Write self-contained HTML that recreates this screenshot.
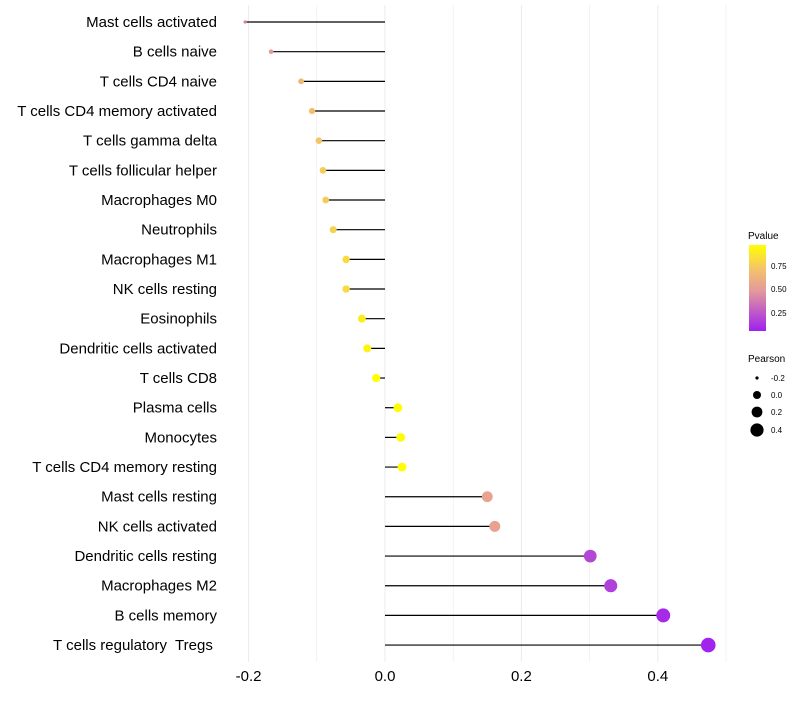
<!DOCTYPE html>
<html><head><meta charset="utf-8"><style>
body{margin:0;background:#fff;font-family:"Liberation Sans",sans-serif}
</style></head><body>
<svg id="chart" width="800" height="700" xmlns="http://www.w3.org/2000/svg" font-family="Liberation Sans, sans-serif">
<defs><linearGradient id="pg" x1="0" y1="1" x2="0" y2="0">
<stop offset="0" stop-color="#A020F0"/><stop offset="0.47" stop-color="#E39A9A"/><stop offset="0.73" stop-color="#F5C468"/><stop offset="1" stop-color="#FFFF00"/></linearGradient></defs>
<g id="grid"></g><g id="marks"></g><g id="labels"></g>
<g>
<text x="748" y="239" font-size="10">Pvalue</text>
<rect x="749" y="245" width="17" height="86" fill="url(#pg)"/>
<text x="771" y="269" font-size="8">0.75</text><text x="771" y="292" font-size="8">0.50</text><text x="771" y="316" font-size="8">0.25</text>
</g>
<g>
<text x="748" y="362" font-size="10">Pearson</text>
<circle cx="757" cy="378" r="1.6"/><text x="771" y="381" font-size="8">-0.2</text>
<circle cx="757" cy="395" r="4"/><text x="771" y="398" font-size="8">0.0</text>
<circle cx="757" cy="412" r="5.4"/><text x="771" y="415" font-size="8">0.2</text>
<circle cx="757" cy="430" r="6.6"/><text x="771" y="433" font-size="8">0.4</text>
</g>
</svg>
<script>
const categories=["Mast cells activated","B cells naive","T cells CD4 naive","T cells CD4 memory activated","T cells gamma delta","T cells follicular helper","Macrophages M0","Neutrophils","Macrophages M1","NK cells resting","Eosinophils","Dendritic cells activated","T cells CD8","Plasma cells","Monocytes","T cells CD4 memory resting","Mast cells resting","NK cells activated","Dendritic cells resting","Macrophages M2","B cells memory","T cells regulatory  Tregs "];
const pearson=[-0.205,-0.167,-0.123,-0.107,-0.097,-0.091,-0.087,-0.076,-0.057,-0.057,-0.034,-0.026,-0.013,0.019,0.023,0.025,0.150,0.161,0.301,0.331,0.408,0.474];
const pvalues=[0.4,0.5,0.68,0.72,0.75,0.78,0.78,0.8,0.83,0.83,0.9,0.92,0.96,0.95,0.95,0.95,0.55,0.55,0.2,0.17,0.1,0.07];
const ticks=[-0.2,0,0.2,0.4];
const tickLabels=["-0.2","0.0","0.2","0.4"];
const NS="http://www.w3.org/2000/svg";
const x=v=>385+v*682;
const y=i=>22+i*29.67;
const rad=v=>Math.sqrt(Math.max(1.5,3+(v+0.2)*75));
const stops=[[0.06,[160,32,240]],[0.5,[227,154,154]],[0.75,[245,196,104]],[0.96,[255,255,0]]];
function col(p){if(p<=stops[0][0])return stops[0][1];for(let k=1;k<stops.length;k++){if(p<=stops[k][0]){const a=stops[k-1],b=stops[k],t=(p-a[0])/(b[0]-a[0]);return a[1].map((c,j)=>Math.round(c+(b[1][j]-c)*t));}}return stops[3][1];}
function mk(t,at,parent){const e=document.createElementNS(NS,t);for(const k in at)e.setAttribute(k,at[k]);parent.appendChild(e);return e;}
const grid=document.getElementById('grid'),marks=document.getElementById('marks'),labels=document.getElementById('labels');
for(let v=-0.3;v<=0.51;v+=0.1){const gx=x(v);if(gx<230||gx>740)continue;
const l=mk('line',{x1:gx,x2:gx,y1:5,y2:662,stroke:'#ebebeb','stroke-width':Math.abs(Math.round(v*10))%2==0?1:0.6},grid);

}
ticks.forEach((t,i)=>{const e=mk('text',{x:x(t),y:681,'font-size':15,'text-anchor':'middle',fill:'#000'},labels);e.textContent=tickLabels[i];

});
categories.forEach((c,i)=>{
const t=mk('text',{x:217,y:y(i)+5,'font-size':15,'text-anchor':'end',fill:'#000'},labels);t.textContent=c;t.style.whiteSpace='pre';


const ln=mk('line',{x1:x(0),x2:x(pearson[i]),y1:y(i),y2:y(i),stroke:'#000','stroke-width':1.2},marks);


const cc=col(pvalues[i]);
const d=mk('circle',{cx:x(pearson[i]),cy:y(i),r:rad(pearson[i]),fill:`rgb(${cc.join(',')})`},marks);


});
</script>
</body></html>
